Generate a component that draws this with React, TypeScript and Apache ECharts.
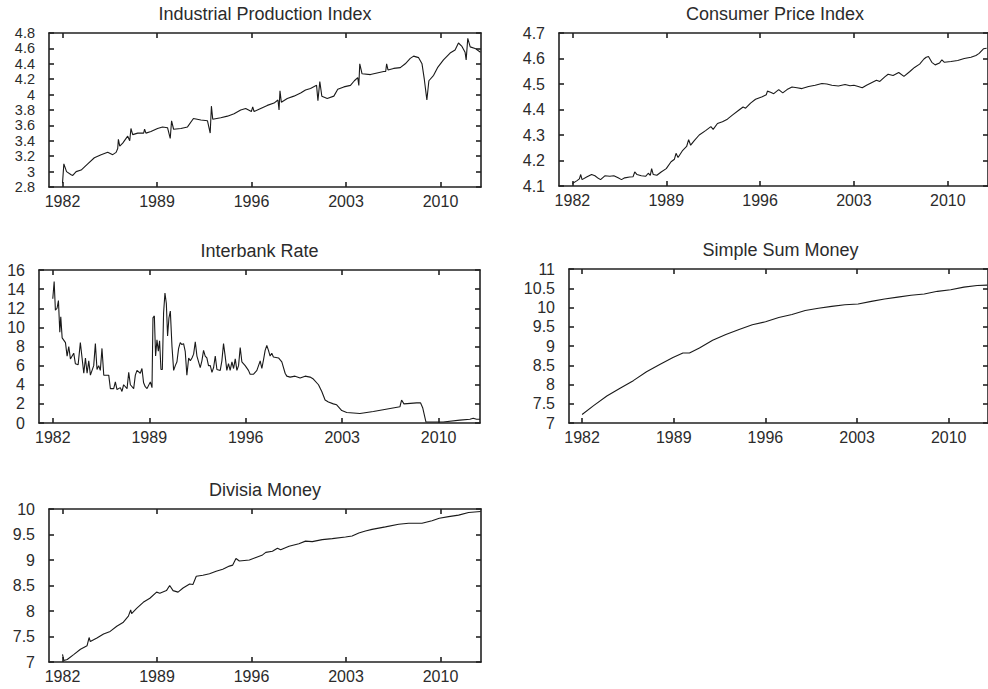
import React, { useEffect, useRef } from "react";
import * as echarts from "echarts";

const xTicks = [1982, 1989, 1996, 2003, 2010];

const titles = [
  "Industrial Production Index",
  "Consumer Price Index",
  "Interbank Rate",
  "Simple Sum Money",
  "Divisia Money",
];

const ipData: [number, number][] = [
  [1982.0, 2.85], [1982.1, 3.1], [1982.3, 3.0], [1982.64, 2.96], [1982.76, 2.95], [1983.01, 3.0],
  [1983.38, 3.02], [1983.87, 3.1], [1984.36, 3.18], [1984.86, 3.22], [1985.35, 3.25], [1985.72, 3.22],
  [1985.97, 3.25], [1986.09, 3.3], [1986.14, 3.42], [1986.24, 3.33], [1986.46, 3.37], [1986.83, 3.46],
  [1986.98, 3.4], [1987.07, 3.56], [1987.2, 3.48], [1987.57, 3.5], [1988.01, 3.5], [1988.08, 3.55],
  [1988.18, 3.5], [1988.55, 3.52], [1989.04, 3.56], [1989.41, 3.58], [1989.78, 3.57], [1989.98, 3.43],
  [1990.08, 3.66], [1990.23, 3.55], [1990.77, 3.56], [1991.26, 3.58], [1991.7, 3.69], [1992.25, 3.67],
  [1992.74, 3.66], [1992.94, 3.5], [1993.03, 3.85], [1993.13, 3.68], [1993.72, 3.7], [1994.22, 3.72],
  [1994.71, 3.75], [1995.2, 3.8], [1995.57, 3.82], [1995.99, 3.78], [1996.09, 3.84], [1996.19, 3.78],
  [1996.68, 3.82], [1997.17, 3.86], [1997.67, 3.89], [1997.96, 3.93], [1998.04, 3.8], [1998.11, 4.05],
  [1998.21, 3.9], [1998.65, 3.95], [1999.14, 3.98], [1999.64, 4.02], [2000.0, 4.06], [2000.37, 4.08],
  [2000.82, 4.12], [2000.92, 3.92], [2001.06, 4.17], [2001.21, 3.98], [2001.61, 3.95], [2002.1, 3.98],
  [2002.39, 4.07], [2002.84, 4.1], [2003.33, 4.12], [2003.62, 4.18], [2003.87, 4.22], [2003.95, 4.12],
  [2004.02, 4.4], [2004.19, 4.27], [2004.81, 4.26], [2005.3, 4.28], [2005.79, 4.3], [2005.94, 4.3],
  [2006.01, 4.4], [2006.11, 4.32], [2006.53, 4.34], [2007.02, 4.35], [2007.39, 4.4], [2007.76, 4.47],
  [2008.01, 4.5], [2008.38, 4.48], [2008.63, 4.4], [2008.8, 4.2], [2008.99, 3.93], [2009.14, 4.18],
  [2009.49, 4.25], [2009.78, 4.35], [2010.22, 4.45], [2010.71, 4.54], [2011.08, 4.58], [2011.33, 4.67],
  [2011.57, 4.63], [2011.82, 4.55], [2011.9, 4.45], [2012.02, 4.73], [2012.2, 4.62], [2012.56, 4.6],
  [2012.96, 4.55],
];

const cpiData: [number, number][] = [
  [1982.0, 4.11], [1982.32, 4.12], [1982.52, 4.128], [1982.62, 4.145], [1982.72, 4.125], [1983.06, 4.135],
  [1983.43, 4.145], [1983.68, 4.14], [1983.93, 4.13], [1984.1, 4.125], [1984.42, 4.14], [1984.79, 4.138],
  [1985.09, 4.14], [1985.41, 4.132], [1985.66, 4.125], [1985.9, 4.132], [1986.27, 4.135], [1986.52, 4.136],
  [1986.65, 4.155], [1986.82, 4.145], [1987.14, 4.14], [1987.46, 4.138], [1987.66, 4.15], [1987.81, 4.142],
  [1987.91, 4.168], [1988.03, 4.145], [1988.3, 4.142], [1988.62, 4.155], [1989.0, 4.168], [1989.36, 4.195],
  [1989.61, 4.205], [1989.73, 4.228], [1989.88, 4.212], [1990.23, 4.24], [1990.52, 4.255], [1990.67, 4.282],
  [1990.82, 4.26], [1991.09, 4.278], [1991.46, 4.3], [1991.96, 4.318], [1992.33, 4.333], [1992.5, 4.322],
  [1992.82, 4.345], [1993.19, 4.352], [1993.56, 4.362], [1993.93, 4.378], [1994.43, 4.398], [1994.73, 4.41],
  [1994.92, 4.405], [1995.29, 4.425], [1995.66, 4.44], [1996.16, 4.45], [1996.46, 4.458], [1996.55, 4.472],
  [1996.78, 4.468], [1997.02, 4.462], [1997.39, 4.478], [1997.69, 4.465], [1998.01, 4.478], [1998.38, 4.488],
  [1998.75, 4.485], [1999.12, 4.482], [1999.62, 4.49], [2000.11, 4.495], [2000.61, 4.502], [2000.98, 4.5],
  [2001.35, 4.495], [2001.84, 4.492], [2002.34, 4.498], [2002.71, 4.493], [2003.0, 4.495], [2003.32, 4.49],
  [2003.62, 4.485], [2003.94, 4.495], [2004.31, 4.505], [2004.68, 4.515], [2004.93, 4.51], [2005.3, 4.528],
  [2005.55, 4.538], [2005.92, 4.533], [2006.34, 4.545], [2006.73, 4.53], [2007.15, 4.548], [2007.52, 4.565],
  [2007.9, 4.578], [2008.22, 4.598], [2008.39, 4.605], [2008.56, 4.608], [2008.81, 4.585], [2009.06, 4.575],
  [2009.38, 4.582], [2009.56, 4.595], [2009.75, 4.585], [2010.24, 4.588], [2010.74, 4.592], [2011.23, 4.6],
  [2011.73, 4.605], [2012.1, 4.612], [2012.34, 4.62], [2012.66, 4.638], [2012.9, 4.64],
];

const rateData: [number, number][] = [
  [1982.0, 13.0], [1982.1, 14.8], [1982.19, 11.8], [1982.31, 12.0], [1982.41, 12.8], [1982.51, 9.5],
  [1982.58, 11.1], [1982.68, 8.9], [1982.92, 8.4], [1983.04, 7.0], [1983.16, 8.0], [1983.28, 6.7],
  [1983.52, 7.3], [1983.64, 6.2], [1983.84, 6.1], [1984.0, 8.4], [1984.25, 5.2], [1984.37, 6.8],
  [1984.49, 5.2], [1984.61, 6.5], [1984.73, 5.0], [1984.97, 6.0], [1985.09, 8.3], [1985.21, 5.6],
  [1985.33, 6.0], [1985.45, 5.5], [1985.57, 7.8], [1985.7, 5.0], [1986.06, 5.0], [1986.18, 3.6],
  [1986.42, 3.6], [1986.54, 4.3], [1986.66, 3.5], [1986.9, 3.7], [1987.02, 3.3], [1987.14, 4.0],
  [1987.39, 3.6], [1987.51, 5.3], [1987.63, 4.0], [1987.87, 3.6], [1987.99, 5.0], [1988.11, 5.5],
  [1988.35, 5.2], [1988.47, 5.7], [1988.59, 4.2], [1988.71, 3.8], [1988.84, 3.6], [1989.08, 4.3],
  [1989.2, 3.7], [1989.27, 11.0], [1989.37, 11.2], [1989.46, 7.0], [1989.56, 8.7], [1989.66, 7.5],
  [1989.75, 8.6], [1989.85, 5.6], [1989.95, 5.6], [1990.04, 11.5], [1990.14, 13.6], [1990.24, 12.5],
  [1990.33, 9.1], [1990.43, 11.0], [1990.53, 11.7], [1990.65, 8.0], [1990.77, 5.5], [1990.89, 6.0],
  [1991.01, 6.4], [1991.13, 7.8], [1991.25, 8.4], [1991.37, 8.2], [1991.49, 8.3], [1991.61, 7.5],
  [1991.73, 5.0], [1991.86, 6.8], [1991.98, 6.5], [1992.1, 6.8], [1992.22, 7.2], [1992.34, 8.5],
  [1992.46, 7.0], [1992.7, 5.8], [1992.82, 6.5], [1992.94, 7.6], [1993.06, 7.0], [1993.18, 6.8],
  [1993.3, 6.0], [1993.43, 6.0], [1993.55, 5.3], [1993.67, 5.8], [1993.79, 7.0], [1993.91, 5.6],
  [1994.15, 5.5], [1994.27, 6.5], [1994.39, 8.3], [1994.51, 7.0], [1994.63, 5.5], [1994.75, 6.2],
  [1994.87, 5.5], [1995.0, 6.4], [1995.12, 5.7], [1995.24, 6.7], [1995.36, 5.5], [1995.48, 6.0],
  [1995.6, 7.9], [1995.72, 6.4], [1995.96, 6.0], [1996.2, 5.5], [1996.32, 5.1], [1996.57, 5.1],
  [1996.81, 5.5], [1997.05, 6.5], [1997.17, 5.7], [1997.29, 6.6], [1997.41, 7.6], [1997.53, 8.1],
  [1997.65, 7.6], [1997.77, 7.0], [1997.89, 7.3], [1998.01, 6.9], [1998.38, 6.8], [1998.62, 6.4],
  [1998.86, 5.2], [1998.98, 4.9], [1999.22, 4.8], [1999.58, 4.9], [1999.95, 4.7], [2000.31, 4.9],
  [2000.67, 4.8], [2000.91, 4.6], [2001.28, 4.0], [2001.52, 3.3], [2001.76, 2.4], [2002.0, 2.2],
  [2002.36, 2.0], [2002.6, 1.9], [2002.97, 1.3], [2003.33, 1.1], [2004.29, 1.0], [2005.26, 1.2],
  [2007.19, 1.7], [2007.31, 2.4], [2007.48, 2.0], [2008.4, 2.1], [2008.69, 2.1], [2008.84, 1.6],
  [2009.08, 0.1], [2009.61, 0.1], [2010.33, 0.1], [2011.54, 0.3], [2012.27, 0.4], [2012.51, 0.5],
  [2012.75, 0.4], [2013.0, 0.4],
];

const simpleSumData: [number, number][] = [
  [1982.0, 7.22], [1982.88, 7.45], [1983.89, 7.7], [1984.9, 7.9], [1985.91, 8.1], [1986.92, 8.33],
  [1987.93, 8.52], [1988.94, 8.7], [1989.7, 8.82], [1990.2, 8.82], [1990.96, 8.95], [1991.97, 9.15],
  [1992.98, 9.3], [1993.99, 9.43], [1995.0, 9.55], [1996.01, 9.63], [1997.02, 9.74], [1998.03, 9.82],
  [1999.04, 9.92], [2000.05, 9.98], [2001.06, 10.03], [2002.07, 10.07], [2003.08, 10.09], [2004.09, 10.16],
  [2005.1, 10.22], [2006.11, 10.27], [2007.12, 10.32], [2008.13, 10.35], [2009.14, 10.42], [2010.15, 10.46],
  [2011.16, 10.53], [2012.17, 10.57], [2012.95, 10.58],
];

const divisiaData: [number, number][] = [
  [1982.0, 7.15], [1982.1, 7.03], [1982.35, 7.05], [1982.85, 7.15], [1983.33, 7.25], [1983.82, 7.32],
  [1983.97, 7.48], [1984.06, 7.4], [1984.55, 7.47], [1985.04, 7.55], [1985.53, 7.6], [1986.02, 7.7],
  [1986.51, 7.78], [1986.88, 7.9], [1987.05, 8.02], [1987.12, 7.95], [1987.49, 8.05], [1987.98, 8.17],
  [1988.47, 8.25], [1988.97, 8.37], [1989.21, 8.35], [1989.7, 8.4], [1989.94, 8.5], [1990.19, 8.4],
  [1990.56, 8.37], [1990.93, 8.45], [1991.42, 8.53], [1991.66, 8.52], [1991.91, 8.68], [1992.4, 8.7],
  [1992.89, 8.73], [1993.38, 8.78], [1993.87, 8.82], [1994.36, 8.88], [1994.61, 8.9], [1994.85, 9.03],
  [1995.1, 8.98], [1995.84, 9.0], [1996.33, 9.05], [1996.82, 9.1], [1997.06, 9.15], [1997.55, 9.17],
  [1997.92, 9.23], [1998.16, 9.2], [1998.78, 9.27], [1999.51, 9.32], [2000.0, 9.37], [2000.5, 9.36],
  [2001.24, 9.4], [2001.98, 9.42], [2002.96, 9.45], [2003.45, 9.47], [2003.95, 9.53], [2004.44, 9.57],
  [2004.93, 9.6], [2005.92, 9.65], [2006.9, 9.7], [2007.64, 9.72], [2008.63, 9.72], [2009.37, 9.77],
  [2009.91, 9.82], [2010.6, 9.85], [2011.34, 9.88], [2012.08, 9.93], [2012.98, 9.95],
];

const seriesList = [ipData, cpiData, rateData, simpleSumData, divisiaData];
const yRanges: [number, number, number][] = [
  [2.8, 4.8, 0.2],
  [4.1, 4.7, 0.1],
  [0, 16, 2],
  [7, 11, 0.5],
  [7, 10, 0.5],
];

const grids = [
  { left: 49, top: 33, width: 432, height: 154 },
  { left: 559, top: 33, width: 432, height: 153 },
  { left: 39, top: 270, width: 441, height: 153 },
  { left: 569, top: 269, width: 423, height: 154 },
  { left: 49, top: 509, width: 432, height: 153 },
];

const FONT = "'Liberation Sans', Arial, Helvetica, sans-serif";
const INK = "#2b2b2b";

export default function App() {
  const ref = useRef<HTMLDivElement>(null);
  useEffect(() => {
    const chart = echarts.init(ref.current!, null, { renderer: "svg" });
    const lineStyle = { color: "#222", width: 1.6 };
    const xAxis: any[] = [];
    const yAxis: any[] = [];
    const series: any[] = [];
    const graphic: any[] = [];
    const yFmt = (v: number) => String(Math.round(v * 1000) / 1000);
    grids.forEach((g, i) => {
      const [ymin, ymax, yint] = yRanges[i];
      xAxis.push({
        type: "value", gridIndex: i, position: "bottom", min: 1981, max: 2013,
        axisLine: { show: true, onZero: false, lineStyle },
        axisTick: { show: true, inside: true, length: 5, customValues: xTicks, lineStyle },
        axisLabel: {
          show: true, customValues: xTicks, margin: 6, color: INK, fontSize: 16, fontFamily: FONT,
          formatter: (v: number) => String(v),
        },
        splitLine: { show: false },
      });
      xAxis.push({
        type: "value", gridIndex: i, position: "top", min: 1981, max: 2013,
        axisLine: { show: true, onZero: false, lineStyle },
        axisTick: { show: true, inside: true, length: 5, customValues: xTicks, lineStyle },
        axisLabel: { show: false },
        splitLine: { show: false },
      });
      yAxis.push({
        type: "value", gridIndex: i, position: "left", min: ymin, max: ymax, interval: yint,
        axisLine: { show: true, onZero: false, lineStyle },
        axisTick: { show: true, inside: true, length: 5, lineStyle },
        axisLabel: {
          show: true, margin: 14, color: INK, fontSize: i === 0 ? 14.5 : 16, fontFamily: FONT, formatter: yFmt,
          showMinLabel: true, showMaxLabel: true, hideOverlap: false, lineHeight: 12,
        },
        splitLine: { show: false },
      });
      yAxis.push({
        type: "value", gridIndex: i, position: "right", min: ymin, max: ymax, interval: yint,
        axisLine: { show: true, onZero: false, lineStyle },
        axisTick: { show: true, inside: true, length: 5, lineStyle },
        axisLabel: { show: false },
        splitLine: { show: false },
      });
      series.push({
        type: "line", xAxisIndex: 2 * i, yAxisIndex: 2 * i, data: seriesList[i],
        showSymbol: false, symbol: "none", lineStyle: { color: "#1a1a1a", width: 1.1 },
        clip: true,
      });
      graphic.push({
        type: "text", x: g.left + g.width / 2, y: g.top - 19,
        style: { text: titles[i], fill: INK, font: `18px ${FONT}`, textAlign: "center", textVerticalAlign: "middle" },
      });
    });
    chart.setOption({
      animation: false,
      backgroundColor: "#fff",
      grid: grids.map((g) => ({ ...g, containLabel: false })),
      xAxis, yAxis, series, graphic,
    });
    return () => chart.dispose();
  }, []);
  return <div ref={ref} style={{ position: "absolute", left: 0, top: 0, width: 988, height: 689 }} />;
}
